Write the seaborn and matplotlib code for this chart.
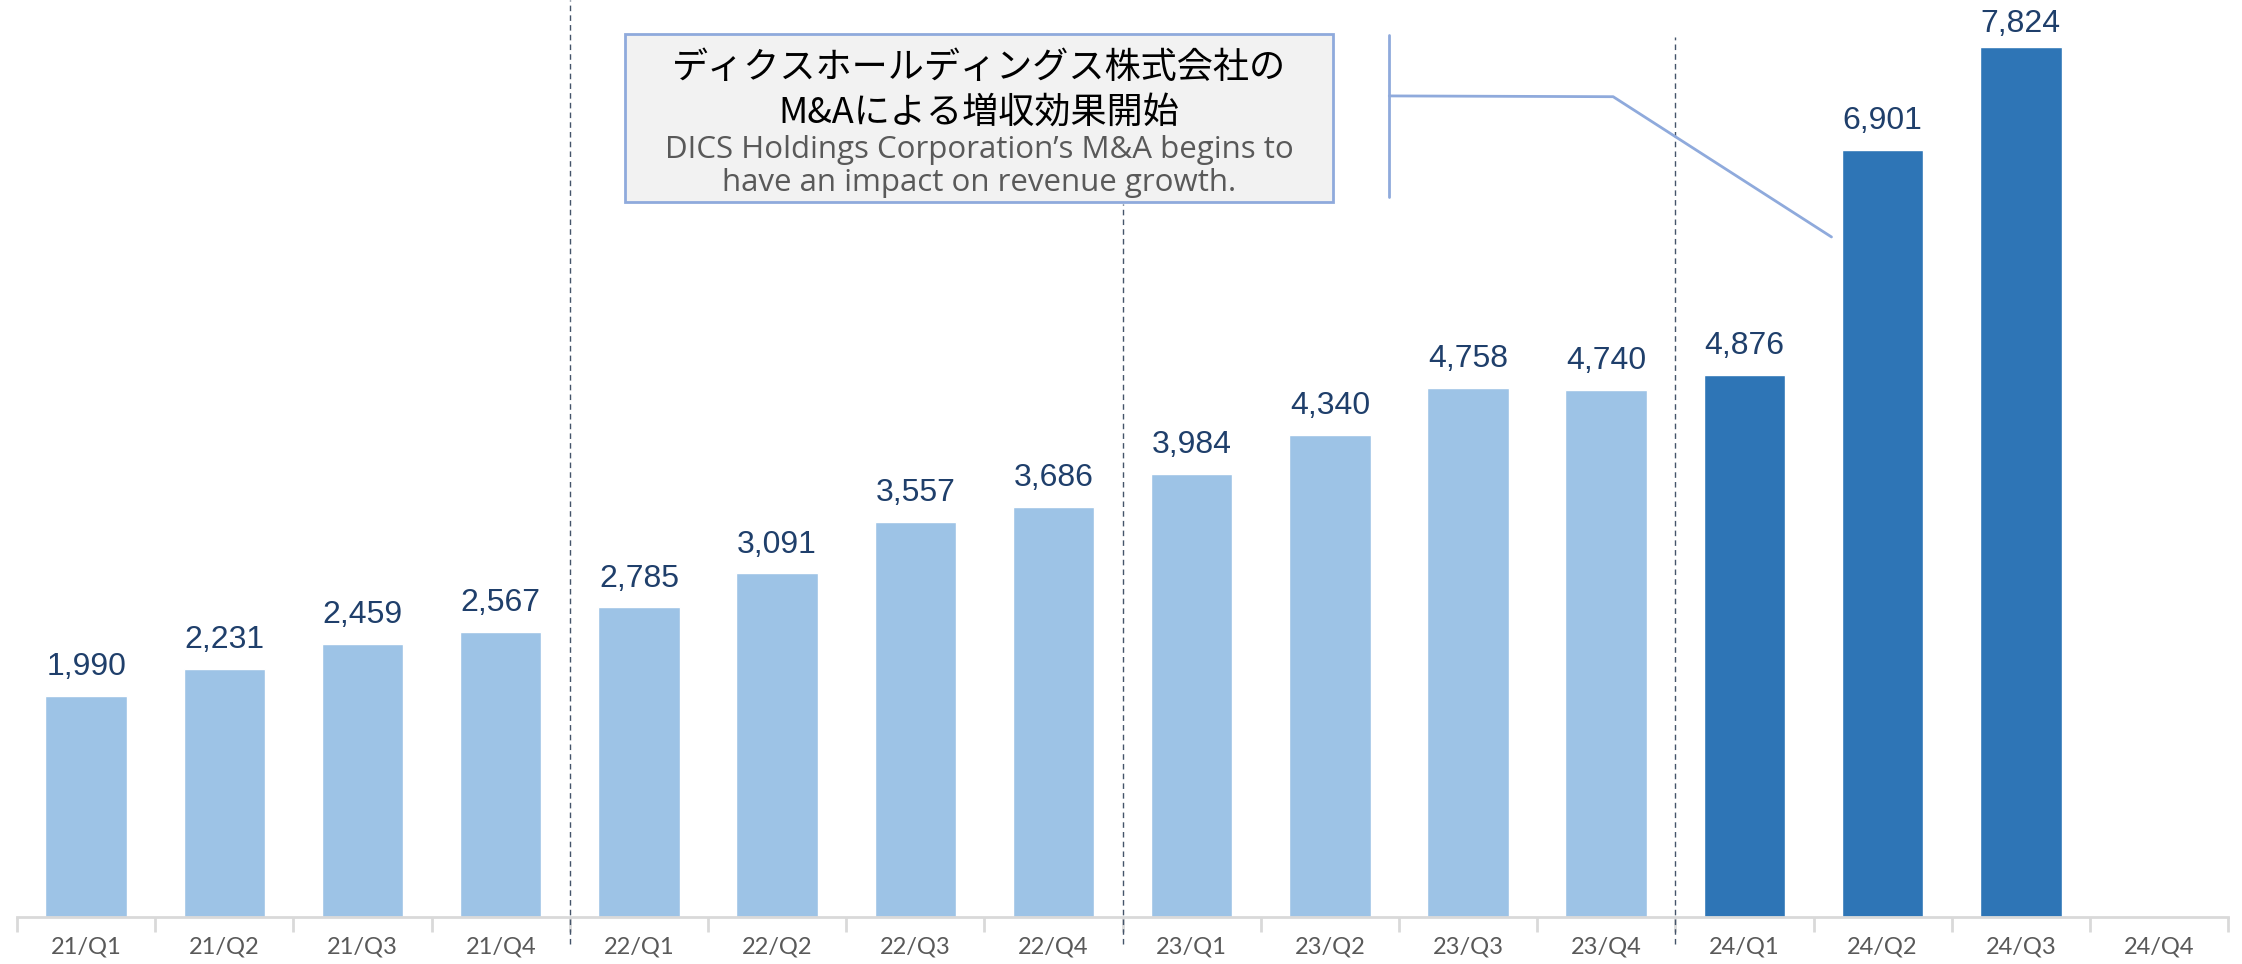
import matplotlib
matplotlib.use("Agg")
import matplotlib.pyplot as plt
import numpy as np
import pandas as pd
import seaborn as sns
from matplotlib.patches import Rectangle

# quarterly revenue (24/Q4 not reported yet)
quarters = ["21/Q1", "21/Q2", "21/Q3", "21/Q4",
            "22/Q1", "22/Q2", "22/Q3", "22/Q4",
            "23/Q1", "23/Q2", "23/Q3", "23/Q4",
            "24/Q1", "24/Q2", "24/Q3", "24/Q4"]
revenue = [1990, 2231, 2459, 2567,
           2785, 3091, 3557, 3686,
           3984, 4340, 4758, 4740,
           4876, 6901, 7824, np.nan]
period = ["before"] * 12 + ["after"] * 4

note_jp = ["ディクスホールディングス株式会社の", "M&Aによる増収効果開始"]
note_en = ["DICS Holdings Corporation’s M&A begins to",
           "have an impact on revenue growth."]

palette = {"before": "#9DC3E6", "after": "#2E75B6"}
label_color = "#1F3F6B"
tick_color = "#595959"
accent = "#8FAADC"

sns.set_theme(style="white")
plt.rcParams['font.family'] = ['Lato', 'DejaVu Sans']

df = pd.DataFrame({"quarter": quarters, "revenue": revenue, "period": period})

fig = plt.figure(figsize=(22.42, 9.64), dpi=100)
ax = fig.add_axes([0.0076, 0.0488, 0.9862, 0.9512])

sns.barplot(data=df, x="quarter", y="revenue", hue="period", order=quarters,
            palette=palette, dodge=False, width=0.59, legend=False, ax=ax,
            saturation=1)

ymax = np.nanmax(revenue)
for cont in ax.containers:
    for bar in cont:
        h = bar.get_height()
        if not (np.isfinite(h) and h > 0):
            continue
        # the top label is squeezed a bit closer to its bar
        pad = 6 if h == ymax else 10
        ax.annotate(f"{h:,.0f}", (bar.get_x() + bar.get_width() / 2, h),
                    xytext=(0, pad), textcoords="offset points",
                    ha='center', va='bottom', fontsize=23,
                    color=label_color, family='Liberation Sans',
                    annotation_clip=False)

ax.set_xlim(-0.5, len(quarters) - 0.5)
ax.set_ylim(0, 8250)
ax.set_xlabel("")
ax.set_ylabel("")
ax.set_yticks([])

# ticks between categories, labels in the middle
ax.set_xticks(np.arange(-0.5, len(quarters)), minor=True)
ax.tick_params(axis='x', which='major', length=0, pad=14,
               labelsize=17, labelcolor=tick_color)
ax.tick_params(axis='x', which='minor', length=11, width=2,
               color="#D9D9D9", direction='out', bottom=True)

for side in ["top", "right", "left"]:
    ax.spines[side].set_visible(False)
ax.spines["bottom"].set_color("#D9D9D9")
ax.spines["bottom"].set_linewidth(2)

# year separators
for x, top in [(3.5, 1.0), (7.5, 0.778), (11.5, 0.96)]:
    ax.axvline(x, ymin=-0.03, ymax=top, color="#44546A", linestyle=(0, (4, 3)),
               linewidth=1, clip_on=False)

# annotation box
box = Rectangle((0.2788, 0.7905), 0.3158, 0.1743, transform=fig.transFigure,
                facecolor="#F2F2F2", edgecolor=accent, linewidth=2, zorder=5)
fig.patches.append(box)
jp_font = ['Noto Sans CJK JP', 'DejaVu Sans']
en_font = ['Open Sans', 'DejaVu Sans']
fig.text(0.4367, 0.9295, note_jp[0], ha='center', va='center', fontsize=26,
         family=jp_font, color="black", zorder=6)
fig.text(0.4367, 0.8830, note_jp[1], ha='center', va='center', fontsize=26,
         family=jp_font, color="black", zorder=6)
fig.text(0.4367, 0.8440, note_en[0], ha='center', va='center', fontsize=22.5,
         family=en_font, color=tick_color, zorder=6)
fig.text(0.4367, 0.8105, note_en[1], ha='center', va='center', fontsize=22.5,
         family=en_font, color=tick_color, zorder=6)

# connector to the 24/Q2 bar
ax.plot([9.43, 9.43], [6478, 7935], color=accent, linewidth=2, clip_on=False)
ax.plot([9.43, 11.05, 12.63], [7387, 7380, 6118], color=accent, linewidth=2,
        clip_on=False)

fig.savefig("out.png", dpi=100)
